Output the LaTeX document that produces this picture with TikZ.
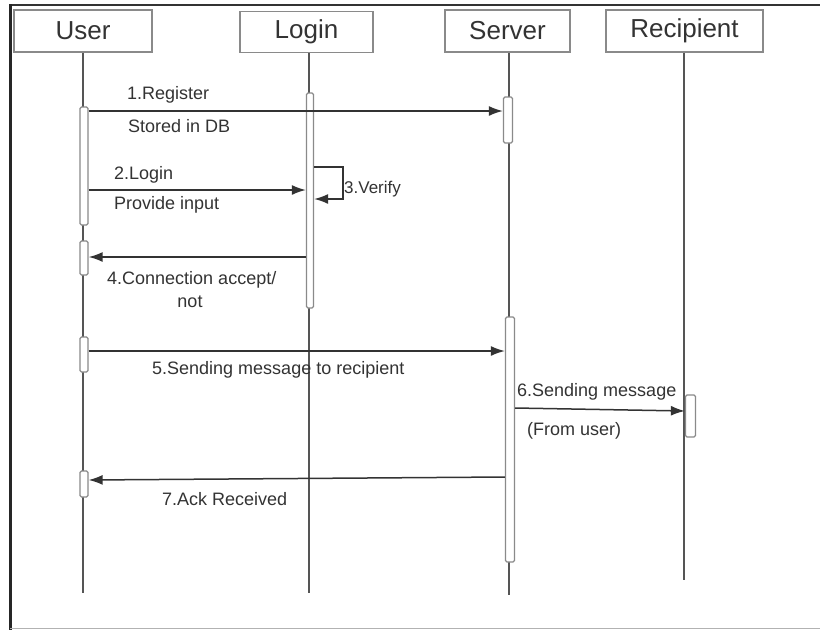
\documentclass[tikz,border=0pt]{standalone}
\usepackage{fontspec}
\setmainfont{Liberation Sans}
\usetikzlibrary{arrows.meta}
\definecolor{ink}{HTML}{333333}
\definecolor{rule}{HTML}{555555}
\definecolor{boxline}{HTML}{8A8A8A}
\tikzset{
  actor/.style={draw=boxline, line width=1.4pt, fill=white, inner sep=0pt,
    font=\fontsize{26}{30}\selectfont, text=ink},
  lifeline/.style={draw=rule, line width=1.5pt},
  actbar/.style={draw=boxline, line width=1.3pt, fill=white, rounded corners=1.5pt},
  msg/.style={draw=ink, line width=1.5pt, -{Latex[length=14pt,width=10pt]}},
  lbl/.style={font=\fontsize{18}{21}\selectfont, text=ink, inner sep=0pt, anchor=west},
}
\begin{document}
\begin{tikzpicture}[x=1pt,y=-1pt]
\useasboundingbox (0,0) rectangle (820,630);
\fill[white] (0,0) rectangle (820,630);
% frame
\draw[black!80, line width=2pt] (10,5) -- (820,5);
\draw[black!85, line width=3pt] (10,4) -- (10,630);
\draw[black!30, line width=1.5pt] (10,628.5) -- (820,628.5);

% participant heads
\node[actor, minimum width=138pt, minimum height=42pt] (user) at (83,31) {User};
\node[actor, minimum width=133pt, minimum height=41pt] (login) at (306.5,32) {Login};
\node[actor, minimum width=125pt, minimum height=42pt] (server) at (507.5,31) {Server};
\node[actor, minimum width=157pt, minimum height=42pt] (recip) at (684.5,31) {Recipient};

% lifeline ends
\coordinate (userEnd) at (83,593);
\coordinate (loginEnd) at (309,593);
\coordinate (serverEnd) at (509,595);
\coordinate (recipEnd) at (684,580);
\draw[lifeline] (user.south) -- (userEnd);
\draw[lifeline] (login.south -| loginEnd) -- (loginEnd);
\draw[lifeline] (server.south -| serverEnd) -- (serverEnd);
\draw[lifeline] (recip.south -| recipEnd) -- (recipEnd);

% activation bars
\node[actbar, minimum width=8pt, minimum height=118pt, inner sep=0pt] (u1) at (84,166) {};
\node[actbar, minimum width=8pt, minimum height=34pt, inner sep=0pt] (u2) at (84,258) {};
\node[actbar, minimum width=8pt, minimum height=35pt, inner sep=0pt] (u3) at (84,354.5) {};
\node[actbar, minimum width=8pt, minimum height=26pt, inner sep=0pt] (u4) at (84,484) {};
\node[actbar, minimum width=7pt, minimum height=215pt, inner sep=0pt] (l1) at (310,200.5) {};
\node[actbar, minimum width=9pt, minimum height=46pt, inner sep=0pt] (s1) at (508,120) {};
\node[actbar, minimum width=9pt, minimum height=245pt, inner sep=0pt] (s2) at (510,439.5) {};
\node[actbar, minimum width=10pt, minimum height=42pt, inner sep=0pt] (r1) at (690.5,416) {};

% 1. register
\draw[msg] (u1.east |- 0,111) -- (s1.west |- 0,111);
\node[lbl] (m1a) at (127,95) {1.Register};
\node[lbl] (m1b) at (128,126) {Stored in DB};

% 2. login
\draw[msg] (u1.east |- 0,190) -- (l1.west |- 0,190);
\node[lbl] (m2a) at (114,175) {2.Login};
\node[lbl] (m2b) at (114,205) {Provide input};

% 3. verify (self call)
\coordinate (v1) at (343,167);
\coordinate (v2) at (343,199);
\draw[msg] (l1.east |- v1) -- (v1) -- (v2) -- (l1.east |- v2);
\node[lbl, font=\fontsize{17}{20}\selectfont] (m3) at (344,189) {3.Verify};

% 4. connection result
\draw[msg] (l1.west |- 0,257) -- (u2.east |- 0,257);
\node[lbl] (m4a) at (107,280) {4.Connection accept/};
\node[lbl, anchor=center] (m4b) at (190,302) {not};

% 5. send to server
\draw[msg] (u3.east |- 0,351) -- (s2.west |- 0,351);
\node[lbl] (m5) at (152,370) {5.Sending message to recipient};

% 6. deliver to recipient
\draw[msg] (s2.east |- 0,408) -- (r1.west |- 0,411);
\node[lbl] (m6a) at (517,392) {6.Sending message};
\node[lbl] (m6b) at (527,431) {(From user)};

% 7. acknowledgement
\draw[msg] (s2.west |- 0,477) -- (u4.east |- 0,480);
\node[lbl] (m7) at (162,499) {7.Ack Received};
\end{tikzpicture}
\end{document}
